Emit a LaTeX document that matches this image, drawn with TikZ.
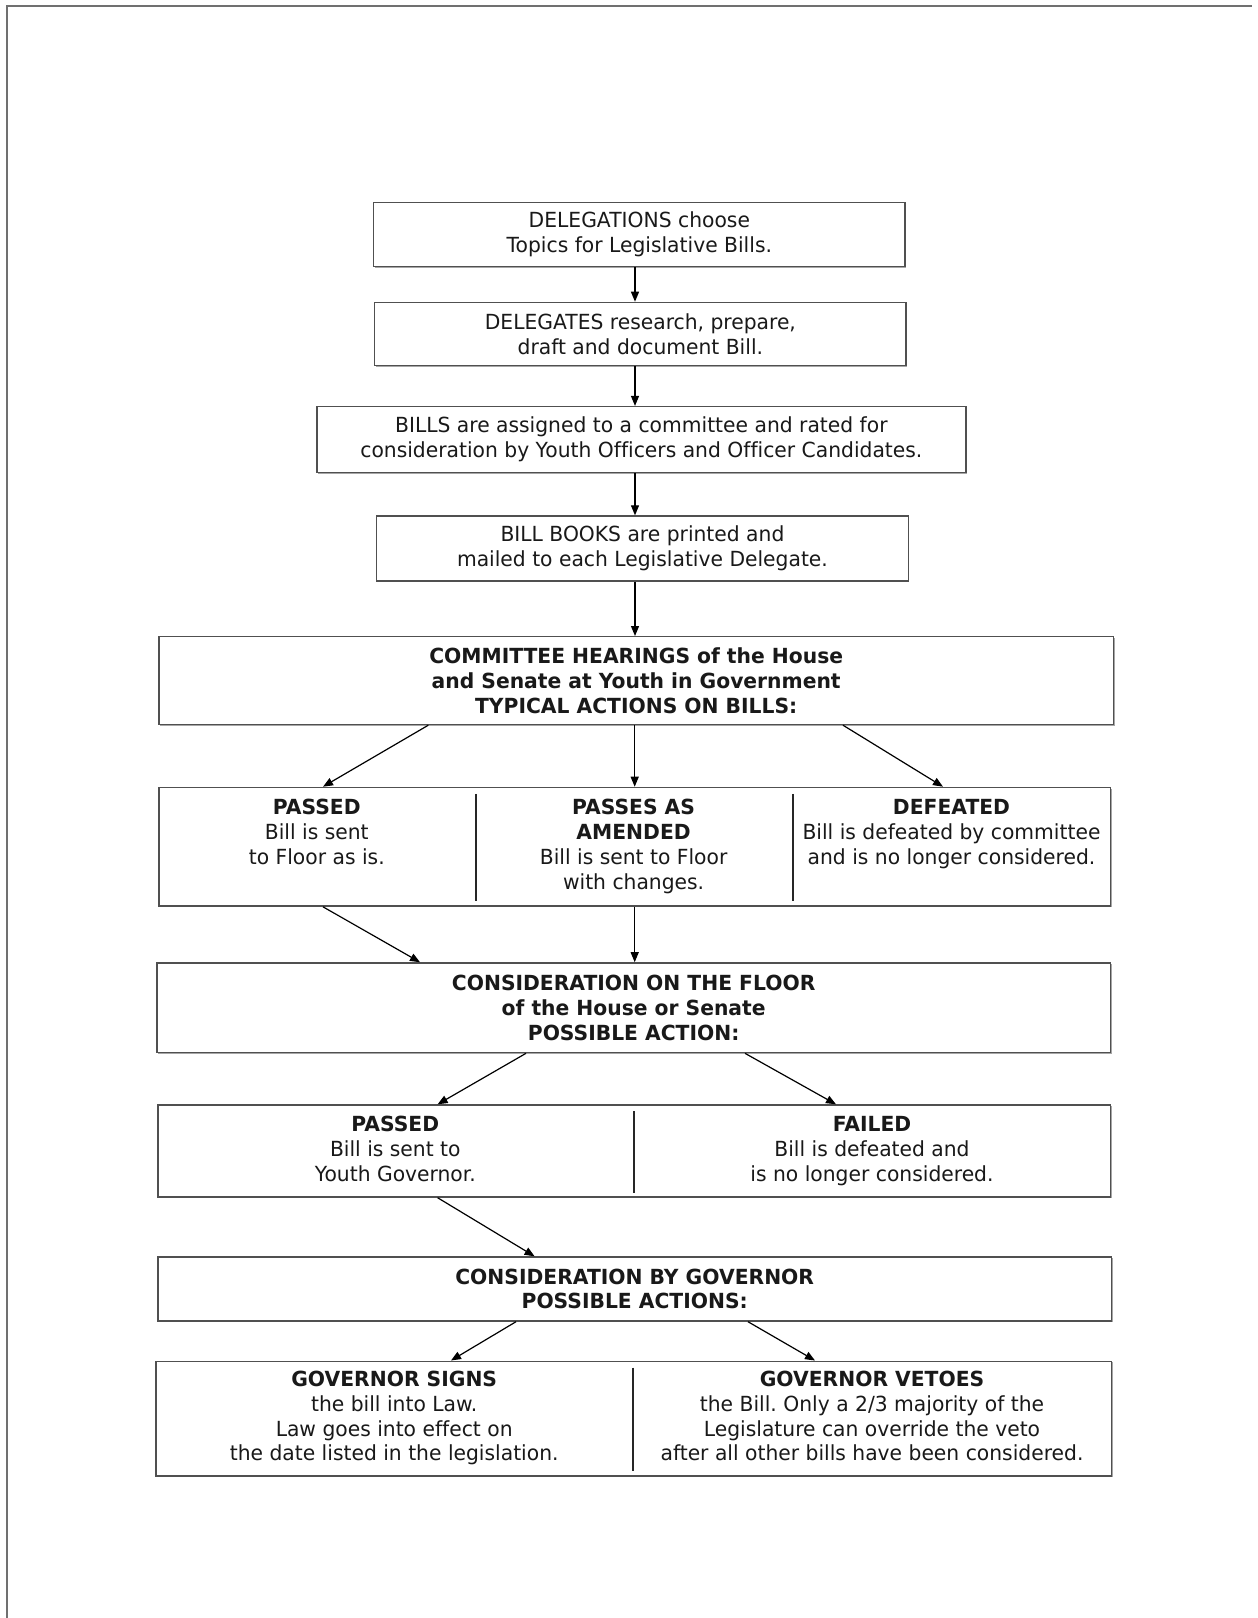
\documentclass[tikz,border=0pt]{standalone}
\usepackage{fontspec}
\setmainfont{DejaVu Sans}[FakeStretch=0.975, Ligatures=NoCommon, BoldFeatures={FakeStretch=0.975}]
\usetikzlibrary{arrows.meta,calc,shadows}
\definecolor{boxgray}{HTML}{505050}
\definecolor{pagegray}{HTML}{707070}
\frenchspacing
\begin{document}
\begin{tikzpicture}[x=1pt,y=-1pt,
  box/.style={draw=boxgray, line width=1.4pt, inner sep=0pt, fill=white,
    drop shadow={shadow xshift=1.2pt, shadow yshift=-1.2pt, fill=black, opacity=0.35}},
  txt/.style={align=center, font=\fontsize{20.8}{24.8}\selectfont\frenchspacing, text=black!90},
  coltxt/.style={align=center, font=\fontsize{20.8}{24.8}\selectfont\frenchspacing, text=black!90, inner sep=0pt, anchor=north},
  arr/.style={draw=black, line width=1.2pt, -{Triangle[length=10pt,width=8pt]}},
  divline/.style={draw=black!85, line width=1.4pt}]
\useasboundingbox (0,0) rectangle (1258,1618);
\fill[white] (0,0) rectangle (1258,1618);
\draw[pagegray, line width=2pt] (7,1618) -- (7,6) -- (1252,6);

% boxes
\node[box, txt, minimum width=531.5pt, minimum height=64pt] (b1) at (639.35,234.3)
  {DELEGATIONS choose\\Topics for Legislative Bills.};
\node[box, txt, minimum width=531.5pt, minimum height=62.9pt] (b2) at (640.35,333.85)
  {DELEGATES research, prepare,\\draft and document Bill.};
\node[box, txt, minimum width=649.1pt, minimum height=66.1pt] (b3) at (641.35,439.65)
  {BILLS are assigned to a committee and rated for\\consideration by Youth Officers and Officer Candidates.};
\node[box, txt, minimum width=531.5pt, minimum height=65pt] (b4) at (642.45,548.5)
  {BILL BOOKS are printed and\\mailed to each Legislative Delegate.};
\node[box, txt, font=\fontsize{20.8}{24.8}\selectfont\bfseries, minimum width=954.6pt, minimum height=87.8pt] (b5) at (636.2,680.6)
  {COMMITTEE HEARINGS of the House\\and Senate at Youth in Government\\TYPICAL ACTIONS ON BILLS:};
\node[box, minimum width=951.5pt, minimum height=118.7pt] (b6) at (634.65,846.75) {};
\node[box, txt, font=\fontsize{20.8}{24.8}\selectfont\bfseries, minimum width=953.5pt, minimum height=89.7pt] (b7) at (633.65,1007.75)
  {CONSIDERATION ON THE FLOOR\\of the House or Senate\\POSSIBLE ACTION:};
\node[box, minimum width=952.5pt, minimum height=92pt] (b8) at (634.15,1151) {};
\node[box, txt, font=\fontsize{20.8}{24.8}\selectfont\bfseries, minimum width=953.6pt, minimum height=64pt] (b9) at (634.7,1289)
  {CONSIDERATION BY GOVERNOR\\POSSIBLE ACTIONS:};
\node[box, minimum width=955.7pt, minimum height=114.6pt] (b10) at (633.65,1418.5) {};

% column texts (top = first baseline - strut height)
\node[coltxt] (p1) at (316.8,797.3) {\strut\textbf{PASSED}\\Bill is sent\\to Floor as is.};
\node[coltxt] (p2) at (633.6,797.3) {\strut\textbf{PASSES AS}\\\textbf{AMENDED}\\Bill is sent to Floor\\with changes.};
\node[coltxt] (p3) at (951.5,797.3) {\strut\textbf{DEFEATED}\\Bill is defeated by committee\\and is no longer considered.};
\node[coltxt] (f1) at (395.3,1114.1) {\strut\textbf{PASSED}\\Bill is sent to\\Youth Governor.};
\node[coltxt] (f2) at (872,1114.1) {\strut\textbf{FAILED}\\Bill is defeated and\\is no longer considered.};
\node[coltxt] (g1) at (394.2,1369) {\strut\textbf{GOVERNOR SIGNS}\\the bill into Law.\\Law goes into effect on\\the date listed in the legislation.};
\node[coltxt] (g2) at (872,1369) {\strut\textbf{GOVERNOR VETOES}\\the Bill. Only a 2/3 majority of the\\Legislature can override the veto\\after all other bills have been considered.};

% dividers
\draw[divline] ($(b6.north west)+(317.9,7.2)$) -- ($(b6.south west)+(317.9,-6.2)$);
\draw[divline] ($(b6.north west)+(634.7,7.2)$) -- ($(b6.south west)+(634.7,-6.2)$);
\draw[divline] ($(b8.north west)+(476.8,7)$) -- ($(b8.south west)+(476.8,-5)$);
\draw[divline] ($(b10.north west)+(477.8,7)$) -- ($(b10.south west)+(477.8,-6)$);

% arrows
\draw[arr] ($(b1.south)+(-4.35,0)$) -- ($(b2.north)+(-5.35,0)$);
\draw[arr] ($(b2.south)+(-5.35,0)$) -- ($(b3.north)+(-6.35,0)$);
\draw[arr] ($(b3.south)+(-6.35,0)$) -- ($(b4.north)+(-7.45,0)$);
\draw[arr] ($(b4.south)+(-7.45,0)$) -- ($(b5.north)+(-1.2,0)$);
\draw[arr] ($(b5.south)+(-207.9,0)$) -- ($(b6.north)+(-311.65,0)$);
\draw[arr] ($(b5.south)+(-1.5,0)$) -- ($(b6.north)+(0.05,0)$);
\draw[arr] ($(b5.south)+(206.8,0)$) -- ($(b6.north)+(308.35,0)$);
\draw[arr] ($(b6.south)+(-311.65,0)$) -- ($(b7.north)+(-213.65,0)$);
\draw[arr] ($(b6.south)+(0.05,0)$) -- ($(b7.north)+(1.05,0)$);
\draw[arr] ($(b7.south)+(-107.65,0)$) -- ($(b8.north)+(-196.55,0)$);
\draw[arr] ($(b7.south)+(111.35,0)$) -- ($(b8.north)+(201.85,0)$);
\draw[arr] ($(b8.south)+(-196.55,0)$) -- ($(b9.north)+(-100.1,0)$);
\draw[arr] ($(b9.south)+(-118.7,0)$) -- ($(b10.north)+(-182.65,0)$);
\draw[arr] ($(b9.south)+(113.3,0)$) -- ($(b10.north)+(181.35,0)$);
\end{tikzpicture}
\end{document}
